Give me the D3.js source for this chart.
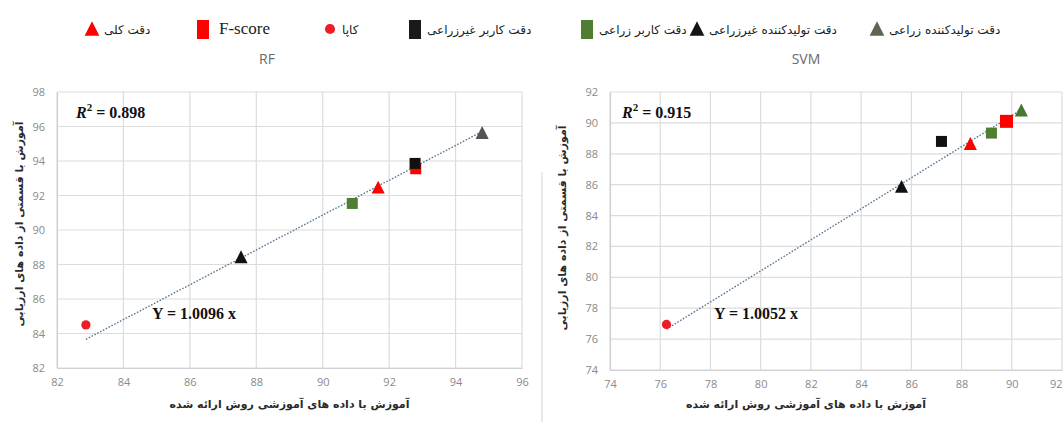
<!DOCTYPE html>
<html>
<head>
<meta charset="utf-8">
<script src="https://cdn.jsdelivr.net/npm/d3@7/dist/d3.min.js"></script>
<style>
  html, body { margin: 0; padding: 0; background: #ffffff; }
  svg { display: block; }
  .tick-label { font-family: "Open Sans", "Noto Sans", sans-serif; font-size: 11px; fill: #8a8a8a; }
  .fa { font-family: "DejaVu Sans", sans-serif; }
</style>
</head>
<body>
<svg id="chart" width="1064" height="422"></svg>
<script>
// Series names (legend order, left to right)
const seriesNames = [
  "دقت کلی",
  "F-score",
  "کاپا",
  "دقت کاربر غیرزراعی",
  "دقت کاربر زراعی",
  "دقت تولیدکننده غیرزراعی",
  "دقت تولیدکننده زراعی"
];
const seriesShapes = ["triangle", "square", "circle", "square", "square", "triangle", "triangle"];
const seriesColors = ["#ff0000", "#ff0000", "#ee1c25", "#1a1a1a", "#4f7d32", "#141414", "#5c6652"];

// RF: x = trained on provided data, y = trained on part of evaluation data
const rfX = [91.67, 92.8, 82.87, 92.78, 90.89, 87.54, 94.8];
const rfY = [92.46, 93.55, 84.5, 93.86, 91.54, 88.42, 95.62];
const rfColors = ["#ff0000", "#ff0000", "#ee1c25", "#111111", "#4f7d32", "#111111", "#555555"];

// SVM
const svmX = [88.35, 89.79, 76.25, 87.2, 89.19, 85.61, 90.38];
const svmY = [88.63, 90.1, 76.95, 88.8, 89.34, 85.86, 90.8];
const svmColors = ["#ff0000", "#ff0000", "#ee1c25", "#111111", "#4f7d32", "#111111", "#47772f"];

// Axis ticks
const rfXTicks = [82, 84, 86, 88, 90, 92, 94, 96];
const rfYTicks = [82, 84, 86, 88, 90, 92, 94, 96, 98];
const svmXTicks = [74, 76, 78, 80, 82, 84, 86, 88, 90, 92];
const svmYTicks = [74, 76, 78, 80, 82, 84, 86, 88, 90, 92];

// Trend lines through the origin
const rfSlope = 1.0096, rfR2 = "0.898";
const svmSlope = 1.0052, svmR2 = "0.915";

const xTitle = "آموزش با داده های آموزشی روش ارائه شده";
const yTitle = "آموزش با قسمتی از داده های ارزیابی";

const svg = d3.select("#chart");

function marker(g, shape, cx, cy, color, size) {
  if (shape === "circle") {
    g.append("circle").attr("cx", cx).attr("cy", cy).attr("r", size * 0.42).attr("fill", color);
  } else if (shape === "square") {
    g.append("rect").attr("x", cx - size / 2).attr("y", cy - size / 2)
      .attr("width", size).attr("height", size).attr("fill", color);
  } else {
    const h = size * 0.95, w = size * 1.05;
    g.append("path")
      .attr("d", `M${cx},${cy - h / 2 - 1}L${cx + w / 2},${cy + h / 2}L${cx - w / 2},${cy + h / 2}Z`)
      .attr("fill", color);
  }
}

function drawPanel(opts) {
  const g = svg.append("g");
  const x = d3.scaleLinear().domain(opts.xDomain).range(opts.xRange);
  const y = d3.scaleLinear().domain(opts.yDomain).range(opts.yRange);

  // Gridlines
  g.selectAll(".hg").data(opts.yTicks).enter().append("line")
    .attr("x1", opts.xRange[0]).attr("x2", opts.xRange[1])
    .attr("y1", d => y(d)).attr("y2", d => y(d))
    .attr("stroke", "#dcdcdc").attr("stroke-width", 1.2);
  g.selectAll(".vg").data(opts.xTicks).enter().append("line")
    .attr("x1", d => x(d)).attr("x2", d => x(d))
    .attr("y1", opts.yRange[0]).attr("y2", opts.yRange[1])
    .attr("stroke", "#dcdcdc").attr("stroke-width", 1.2);

  // Axes (labels only, Excel style)
  const xAxis = d3.axisBottom(x).tickValues(opts.xTicks).tickSize(0).tickPadding(10).tickFormat(d3.format("d"));
  const yAxis = d3.axisLeft(y).tickValues(opts.yTicks).tickSize(0).tickPadding(opts.yPad).tickFormat(d3.format("d"));
  const gx = g.append("g").attr("transform", `translate(0,${opts.yRange[0]})`).call(xAxis);
  const gy = g.append("g").attr("transform", `translate(${opts.xRange[0]},0)`).call(yAxis);
  [gx, gy].forEach(a => {
    a.select(".domain").attr("stroke", "#d0d0d0").attr("stroke-width", 1.2);
    a.selectAll("text").attr("class", "tick-label");
  });
  // Keep the last x label inside the page edge
  if (opts.clampLast) {
    gx.selectAll(".tick:last-of-type text").attr("text-anchor", "end").attr("dx", 0);
  }

  // Trend line Y = slope * x over the data's x extent
  const [xmin, xmax] = d3.extent(opts.xs);
  g.append("line")
    .attr("x1", x(xmin)).attr("y1", y(opts.slope * xmin))
    .attr("x2", x(xmax)).attr("y2", y(opts.slope * xmax))
    .attr("stroke", "#5a7896").attr("stroke-width", 1.4)
    .attr("stroke-dasharray", "1.6,1.6");

  // Points
  const order = [2, 5, 4, 0, 1, 3, 6];
  order.forEach(i => {
    const sz = (i === 1) ? opts.fSize : (seriesShapes[i] === "triangle" ? 12.5 : 11);
    marker(g, seriesShapes[i], x(opts.xs[i]), y(opts.ys[i]), opts.colors[i], sz);
  });

  // Titles
  g.append("text").attr("x", opts.titleX).attr("y", 64).attr("text-anchor", "middle")
    .attr("font-family", "Open Sans, sans-serif").attr("font-size", 14).attr("fill", "#6a6a6a")
    .text(opts.title);

  g.append("text").attr("class", "fa").attr("x", (opts.xRange[0] + opts.xRange[1]) / 2 + opts.xtOff).attr("y", 408)
    .attr("text-anchor", "middle").attr("font-size", 11).attr("font-weight", "bold").attr("fill", "#2a2a2a")
    .attr("direction", "rtl").text(xTitle);

  g.append("text").attr("class", "fa")
    .attr("transform", `translate(${opts.ytX},${opts.ytY}) rotate(-90)`)
    .attr("text-anchor", "middle").attr("font-size", 11).attr("font-weight", "bold").attr("fill", "#2a2a2a")
    .attr("direction", "rtl").text(yTitle);

  // R² and equation
  const r2 = g.append("text").attr("x", opts.r2X).attr("y", 118)
    .attr("font-family", "Liberation Serif, serif").attr("font-weight", "bold").attr("font-size", 16).attr("fill", "#111");
  r2.append("tspan").attr("font-style", "italic").text("R");
  r2.append("tspan").attr("dy", -7).attr("font-size", 11).text("2");
  r2.append("tspan").attr("dy", 7).text(" = " + opts.r2);

  g.append("text").attr("x", opts.eqX).attr("y", 319)
    .attr("font-family", "Liberation Serif, serif").attr("font-weight", "bold").attr("font-size", 16).attr("fill", "#111")
    .text("Y = " + opts.slope.toFixed(4) + " x");
}

drawPanel({
  title: "RF", titleX: 267,
  xDomain: [82, 96], xRange: [57, 522],
  yDomain: [82, 98], yRange: [368, 92],
  xTicks: rfXTicks, yTicks: rfYTicks, yPad: 12,
  xs: rfX, ys: rfY, colors: rfColors, slope: rfSlope, r2: rfR2, fSize: 11,
  ytX: 23, ytY: 224, xtOff: 0, r2X: 76, eqX: 152, clampLast: false
});

drawPanel({
  title: "SVM", titleX: 806,
  xDomain: [74, 92], xRange: [610, 1062],
  yDomain: [74, 92], yRange: [370, 92],
  xTicks: svmXTicks, yTicks: svmYTicks, yPad: 12,
  xs: svmX, ys: svmY, colors: svmColors, slope: svmSlope, r2: svmR2, fSize: 13,
  ytX: 566, ytY: 228, xtOff: -30, r2X: 622, eqX: 714, clampLast: true
});

// Separator between the two panels
svg.append("line").attr("x1", 542).attr("x2", 542).attr("y1", 172).attr("y2", 422)
  .attr("stroke", "#d4d4d4").attr("stroke-width", 1);

// Legend
const legendX = [92, 203, 330, 415, 587, 697, 877];
const legend = svg.append("g");
seriesNames.forEach((name, i) => {
  const mx = legendX[i], my = 29;
  if (seriesShapes[i] === "square") {
    legend.append("rect").attr("x", mx - 6).attr("y", my - 9).attr("width", 12).attr("height", 19)
      .attr("fill", seriesColors[i]);
  } else {
    marker(legend, seriesShapes[i], mx, my, seriesColors[i], seriesShapes[i] === "circle" ? 12 : 14);
  }
  const isLatin = name === "F-score";
  legend.append("text")
    .attr("x", mx + (isLatin ? 16 : 12)).attr("y", my + 5)
    .attr("font-family", isLatin ? "Liberation Serif, serif" : "DejaVu Sans, sans-serif")
    .attr("font-size", isLatin ? 17 : 12)
    .attr("fill", "#222")
    .attr("direction", isLatin ? "ltr" : "rtl")
    .attr("text-anchor", isLatin ? "start" : "end")
    .text(name);
});
</script>
</body>
</html>
